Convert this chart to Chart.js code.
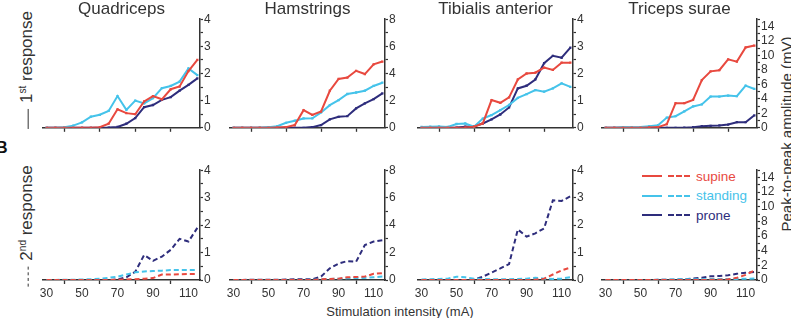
<!DOCTYPE html>
<html lang="en">
<head>
    <meta charset="UTF-8">
    <title>Peak-to-peak amplitude by stimulation intensity</title>
    <script src="https://cdn.jsdelivr.net/npm/chart.js"></script>
    <style>
        body {
            margin: 0;
            padding: 0;
            width: 791px;
            height: 318px;
            overflow: hidden;
            background: #ffffff;
            font-family: 'Liberation Sans', Arial, sans-serif;
            color: #333333;
            position: relative;
        }

        .panel {
            position: absolute;
        }

        .title {
            position: absolute;
            font-size: 17px;
            color: #333;
            transform: translateX(-50%);
            white-space: nowrap;
        }

        .vtext {
            position: absolute;
            white-space: nowrap;
            transform: translate(-50%, -50%) rotate(-90deg);
            color: #333;
        }

        .rowlabel {
            font-size: 17px;
        }

        .rowlabel sup {
            font-size: 10px;
        }

        .mark {
            display: inline-block;
            width: 20px;
            vertical-align: middle;
            margin-right: 6px;
        }

        .legend {
            position: absolute;
            left: 642px;
            top: 166px;
            font-size: 13.5px;
        }

        .legend div {
            height: 19.5px;
            line-height: 19.5px;
            white-space: nowrap;
        }

        .legend span {
            display: inline-block;
            vertical-align: middle;
        }
    </style>
</head>
<body>
    <div class="vtext" style="left:786px; top:134px; font-size:15px;">Peak-to-peak amplitude (mV)</div>
    <div class="vtext rowlabel" style="left:27px; top:70px;"><span class="mark" style="border-top:1.5px solid #333;"></span>1<sup>st</sup> response</div>
    <div class="vtext rowlabel" style="left:27px; top:226px;"><span class="mark" style="border-top:1.5px dashed #333;"></span>2<sup>nd</sup> response</div>
    <div style="position:absolute; left:-4px; top:139px; font-size:16px; font-weight:bold; color:#111;">B</div>
    <div style="position:absolute; left:400px; top:304px; font-size:13px; transform:translateX(-50%); white-space:nowrap;">Stimulation intensity (mA)</div>

    <div class="legend" id="legend"></div>

    <script>
        const intensity = [30, 35, 40, 45, 50, 55, 60, 65, 70, 75, 80, 85, 90, 95, 100, 105, 110, 115];
        const xTicks = [30, 40, 50, 60, 70, 80, 90, 100, 110];
        const muscles = ['Quadriceps', 'Hamstrings', 'Tibialis anterior', 'Triceps surae'];
        const positions = ['supine', 'standing', 'prone'];
        const colors = ['#e8493f', '#45c3ea', '#2e2d7c'];
        const yMax = [4, 8, 4, 15];
        const yStep = [0.5, 1, 0.5, 1];
        const yLabelStep = [1, 2, 1, 2];

        // 1st response (solid)
        const quadSupine1 = [0, 0, 0, 0, 0, 0, 0.02, 0.15, 0.68, 0.54, 0.5, 0.97, 1.17, 1.05, 1.42, 1.52, 2.09, 2.5];
        const quadStanding1 = [0, 0, 0.02, 0.08, 0.2, 0.41, 0.48, 0.62, 1.17, 0.66, 1.0, 0.9, 1.09, 1.46, 1.54, 1.7, 2.19, 1.94];
        const quadProne1 = [0, 0, 0, 0, 0, 0, 0, 0.01, 0.03, 0.15, 0.36, 0.76, 0.84, 1.03, 1.13, 1.37, 1.58, 1.82];

        const hamSupine1 = [0, 0, 0, 0, 0, 0.02, 0.05, 0.2, 1.3, 0.95, 1.2, 2.73, 3.6, 3.7, 4.2, 3.96, 4.68, 4.88];
        const hamStanding1 = [0, 0, 0, 0.01, 0.05, 0.12, 0.37, 0.52, 0.69, 0.7, 1.13, 1.67, 2.04, 2.49, 2.6, 2.73, 3.08, 3.32];
        const hamProne1 = [0, 0, 0, 0, 0, 0, 0, 0, 0, 0.05, 0.2, 0.62, 0.81, 0.86, 1.43, 1.8, 2.12, 2.54];

        const tibSupine1 = [0, 0, 0, 0, 0, 0.01, 0.04, 0.16, 1.02, 0.92, 1.12, 1.78, 2.0, 2.03, 2.22, 2.13, 2.4, 2.4];
        const tibStanding1 = [0.03, 0.04, 0.05, 0.03, 0.14, 0.16, 0.04, 0.34, 0.47, 0.65, 0.84, 1.1, 1.24, 1.39, 1.33, 1.45, 1.64, 1.51];
        const tibProne1 = [0, 0, 0, 0, 0.01, 0.04, 0.06, 0.16, 0.31, 0.49, 0.75, 1.45, 1.55, 1.78, 2.38, 2.65, 2.58, 2.95];

        const triSupine1 = [0, 0, 0, 0, 0, 0.05, 0.1, 0.5, 3.4, 3.4, 3.86, 6.6, 7.8, 7.95, 9.45, 9.14, 11.1, 11.36];
        const triStanding1 = [0, 0.02, 0.1, 0.08, 0.1, 0.23, 0.36, 1.41, 1.6, 2.27, 2.95, 3.23, 4.32, 4.32, 4.45, 4.36, 5.82, 5.36];
        const triProne1 = [0, 0, 0, 0, 0, 0, 0, 0, 0, 0.02, 0.08, 0.23, 0.27, 0.32, 0.45, 0.77, 0.77, 1.73];

        // 2nd response (dashed)
        const quadSupine2 = [0, 0, 0, 0, 0, 0, 0, 0, 0.01, 0.02, 0.03, 0.05, 0.07, 0.2, 0.2, 0.21, 0.22, 0.22];
        const quadStanding2 = [0, 0, 0.01, 0.01, 0.02, 0.03, 0.05, 0.08, 0.12, 0.2, 0.28, 0.31, 0.33, 0.34, 0.36, 0.36, 0.36, 0.36];
        const quadProne2 = [0, 0, 0, 0, 0, 0, 0, 0, 0.02, 0.1, 0.3, 0.91, 0.7, 0.85, 1.1, 1.5, 1.4, 1.9];

        const hamSupine2 = [0, 0, 0, 0, 0, 0, 0, 0, 0, 0, 0.05, 0.08, 0.1, 0.2, 0.22, 0.25, 0.45, 0.5];
        const hamStanding2 = [0, 0, 0, 0, 0, 0, 0, 0, 0, 0.02, 0.05, 0.08, 0.1, 0.12, 0.15, 0.15, 0.2, 0.25];
        const hamProne2 = [0, 0, 0.02, 0.02, 0.02, 0.02, 0.03, 0.05, 0.05, 0.05, 0.25, 0.85, 1.2, 1.38, 1.33, 2.55, 2.8, 2.9];

        const tibSupine2 = [0, 0, 0, 0, 0, 0, 0, 0, 0, 0, 0, 0, 0, 0.01, 0.05, 0.2, 0.35, 0.45];
        const tibStanding2 = [0.02, 0.03, 0.04, 0.05, 0.12, 0.1, 0.05, 0.04, 0.03, 0.03, 0.03, 0.04, 0.05, 0.08, 0.05, 0.04, 0.05, 0.1];
        const tibProne2 = [0, 0, 0, 0, 0, 0, 0.02, 0.12, 0.27, 0.42, 0.58, 1.84, 1.58, 1.7, 1.88, 2.9, 2.88, 3.05];

        const triSupine2 = [0, 0, 0, 0, 0, 0, 0, 0, 0, 0, 0, 0, 0.02, 0.05, 0.1, 0.3, 0.7, 1.3];
        const triStanding2 = [0, 0, 0, 0, 0, 0, 0.02, 0.05, 0.1, 0.1, 0.1, 0.1, 0.12, 0.12, 0.13, 0.15, 0.17, 0.2];
        const triProne2 = [0, 0, 0, 0, 0, 0, 0.02, 0.03, 0.05, 0.1, 0.2, 0.3, 0.5, 0.55, 0.65, 0.85, 1.0, 1.1];

        const firstResponse = [
            [quadSupine1, quadStanding1, quadProne1],
            [hamSupine1, hamStanding1, hamProne1],
            [tibSupine1, tibStanding1, tibProne1],
            [triSupine1, triStanding1, triProne1]
        ];
        const secondResponse = [
            [quadSupine2, quadStanding2, quadProne2],
            [hamSupine2, hamStanding2, hamProne2],
            [tibSupine2, tibStanding2, tibProne2],
            [triSupine2, triStanding2, triProne2]
        ];

        // plot area placement (px)
        const colLeft = [43, 230, 418, 602];
        const colRight = [200, 385, 573, 757];
        const rowTop = [19, 170];
        const rowBottom = [128, 280];
        const padL = 12, padT = 8, yW = 26;
        const xH = [8, 22];
        const axisColor = '#333333';
        const tickFont = { family: "'Liberation Sans', Arial, sans-serif", size: 12 };

        function makePanel(row, col) {
            const div = document.createElement('div');
            div.className = 'panel';
            const w = colRight[col] - colLeft[col] + padL + yW;
            const h = rowBottom[row] - rowTop[row] + padT + xH[row];
            div.style.left = (colLeft[col] - padL) + 'px';
            div.style.top = (rowTop[row] - padT) + 'px';
            div.style.width = w + 'px';
            div.style.height = h + 'px';
            const canvas = document.createElement('canvas');
            div.appendChild(canvas);
            document.body.appendChild(div);

            if (row === 0) {
                const t = document.createElement('div');
                t.className = 'title';
                t.textContent = muscles[col];
                t.style.left = ((colLeft[col] + colRight[col]) / 2) + 'px';
                t.style.top = '-1px';
                document.body.appendChild(t);
            }

            const series = row === 0 ? firstResponse[col] : secondResponse[col];
            const datasets = series.map((vals, i) => ({
                label: positions[i],
                data: vals.map((v, k) => ({ x: intensity[k], y: v })),
                borderColor: colors[i],
                backgroundColor: colors[i],
                borderWidth: 2,
                borderDash: row === 0 ? [] : [5, 3],
                pointRadius: row === 0 ? 1.6 : 0,
                pointStyle: 'rect',
                pointBorderWidth: 0,
                tension: 0
            }));

            new Chart(canvas.getContext('2d'), {
                type: 'line',
                data: { datasets: datasets },
                options: {
                    responsive: true,
                    maintainAspectRatio: false,
                    animation: false,
                    layout: { padding: { left: padL, top: padT, right: 0, bottom: 0 } },
                    plugins: {
                        legend: { display: false },
                        tooltip: { enabled: false }
                    },
                    scales: {
                        x: {
                            type: 'linear',
                            min: 28,
                            max: 116.5,
                            afterBuildTicks: s => { s.ticks = xTicks.map(v => ({ value: v })); },
                            afterFit: s => { s.height = xH[row]; },
                            ticks: {
                                display: row === 1,
                                autoSkip: false,
                                maxRotation: 0,
                                padding: 2,
                                color: '#333',
                                font: tickFont,
                                callback: v => (v % 20 === 10 ? v : '')
                            },
                            grid: {
                                drawOnChartArea: false,
                                drawTicks: true,
                                tickLength: 4,
                                tickWidth: 1.3,
                                tickColor: ctx => (ctx.tick && ctx.tick.value % 20 === 0 ? axisColor : 'rgba(0,0,0,0)')
                            },
                            border: { display: true, color: axisColor, width: 1.5 }
                        },
                        y: {
                            position: 'right',
                            min: 0,
                            max: yMax[col],
                            afterFit: s => { s.width = yW; },
                            ticks: {
                                stepSize: yStep[col],
                                autoSkip: false,
                                padding: 1,
                                color: '#333',
                                font: tickFont,
                                callback: v => (Math.abs(v / yLabelStep[col] - Math.round(v / yLabelStep[col])) < 1e-6 ? v : '')
                            },
                            grid: {
                                drawOnChartArea: false,
                                drawTicks: true,
                                tickLength: 3,
                                tickWidth: 1.2,
                                tickColor: axisColor
                            },
                            border: { display: true, color: axisColor, width: 1.5 }
                        }
                    }
                }
            });
        }

        for (let r = 0; r < 2; r++) {
            for (let c = 0; c < 4; c++) {
                makePanel(r, c);
            }
        }

        // legend: solid (1st) and dashed (2nd) marks for each position
        const legend = document.getElementById('legend');
        positions.forEach((p, i) => {
            const row = document.createElement('div');
            row.style.color = colors[i];
            row.innerHTML =
                '<span style="width:20px;border-top:2px solid ' + colors[i] + ';margin-right:6px;"></span>' +
                '<span style="width:22px;border-top:2px dashed ' + colors[i] + ';margin-right:6px;"></span>' +
                '<span>' + p + '</span>';
            legend.appendChild(row);
        });
    </script>
</body>
</html>
